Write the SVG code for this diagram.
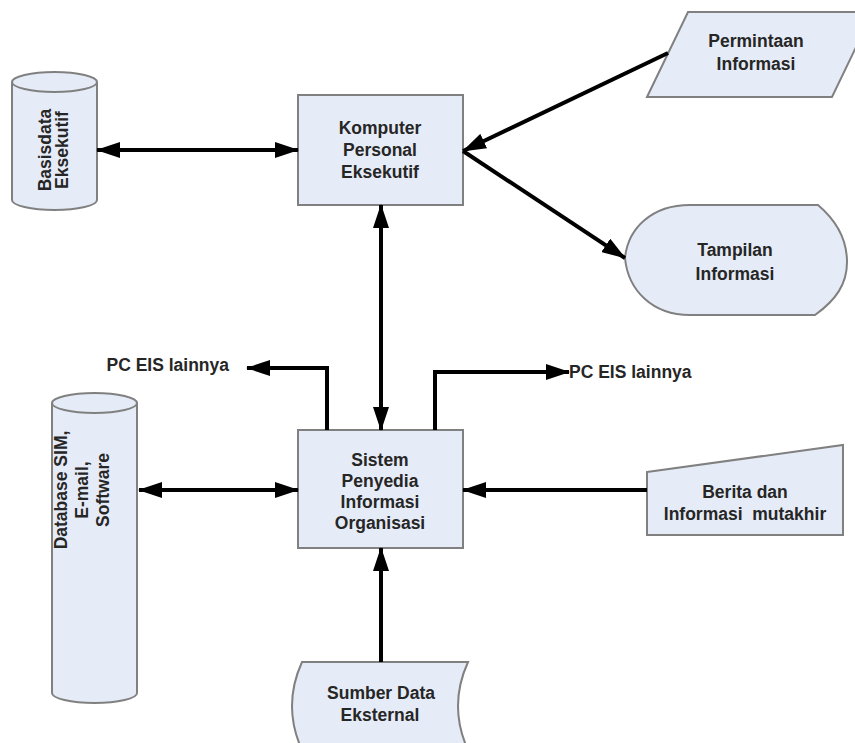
<svg xmlns="http://www.w3.org/2000/svg" width="855" height="743" viewBox="0 0 855 743">
<style>
.shape{fill:#e6ecf7;stroke:#808080;stroke-width:2}
.t{font-family:"Liberation Sans",Arial,sans-serif;font-weight:bold;font-size:17.5px;fill:#262626;text-anchor:middle}
.c{fill:none;stroke:#000;stroke-width:4}
</style>
<defs>
<marker id="ah" markerUnits="userSpaceOnUse" markerWidth="24" markerHeight="16" refX="23" refY="8" orient="auto-start-reverse">
<path d="M0,0 L24,8 L0,16 Z" fill="#000"/>
</marker>
</defs>
<rect width="855" height="743" fill="#fff"/>
<g id="basisdata">
<path class="shape" d="M12,82 L12,200 A42.5,10 0 0 0 97,200 L97,82 A42.5,10 0 0 0 12,82 Z"/>
<path class="shape" fill="none" d="M12,82 A42.5,10 0 0 0 97,82"/>
<g transform="translate(55,150) rotate(-90)">
<text class="t" x="0" y="-4">Basisdata</text>
<text class="t" x="0" y="13">Eksekutif</text>
</g>
</g>
<g id="komputer">
<rect class="shape" x="298" y="95" width="165" height="110"/>
<text class="t" x="380" y="134">Komputer</text>
<text class="t" x="380" y="156">Personal</text>
<text class="t" x="380" y="178">Eksekutif</text>
</g>
<g id="permintaan">
<polygon class="shape" points="647,97 688,12 873,12 832,97"/>
<text class="t" x="756" y="47">Permintaan</text>
<text class="t" x="756" y="70">Informasi</text>
</g>
<g id="tampilan">
<path class="shape" d="M625,258 C628,228 652,205 690,205 L818,205 C838,222 847,242 847,262 C847,284 836,300 815,315 L690,315 C652,315 628,290 625,258 Z"/>
<text class="t" x="735" y="256">Tampilan</text>
<text class="t" x="735" y="280">Informasi</text>
</g>
<g id="database">
<path class="shape" d="M52,403 L52,693 A42.5,10 0 0 0 137,693 L137,403 A42.5,10 0 0 0 52,403 Z"/>
<path class="shape" fill="none" d="M52,403 A42.5,10 0 0 0 137,403"/>
<g transform="translate(95,490) rotate(-90)">
<text class="t" x="0" y="-28">Database SIM,</text>
<text class="t" x="0" y="-7">E-mail,</text>
<text class="t" x="0" y="14">Software</text>
</g>
</g>
<g id="sistem">
<rect class="shape" x="298" y="430" width="165" height="118"/>
<text class="t" x="380" y="466">Sistem</text>
<text class="t" x="380" y="487">Penyedia</text>
<text class="t" x="380" y="508">Informasi</text>
<text class="t" x="380" y="529">Organisasi</text>
</g>
<g id="berita">
<polygon class="shape" points="647,472 843,445 843,535 647,535"/>
<text class="t" x="745" y="498">Berita dan</text>
<text class="t" x="745" y="520" xml:space="preserve">Informasi  mutakhir</text>
</g>
<g id="sumber">
<path class="shape" d="M302,662 L468,662 Q448,706 468,750 L302,750 Q282,706 302,662 Z"/>
<text class="t" x="381" y="699">Sumber Data</text>
<text class="t" x="380" y="721">Eksternal</text>
</g>
<g id="labels">
<text class="t" x="229" y="371" style="text-anchor:end">PC EIS lainnya</text>
<text class="t" x="569" y="378" style="text-anchor:start">PC EIS lainnya</text>
</g>
<g id="connectors">
<line class="c" x1="97" y1="150" x2="298" y2="150" marker-start="url(#ah)" marker-end="url(#ah)"/>
<line class="c" x1="668" y1="53" x2="463" y2="151" marker-end="url(#ah)"/>
<line class="c" x1="463" y1="151" x2="625" y2="258" marker-end="url(#ah)"/>
<line class="c" x1="381" y1="205" x2="381" y2="430" marker-start="url(#ah)" marker-end="url(#ah)"/>
<polyline class="c" points="327,430 327,368 247,368" marker-end="url(#ah)"/>
<polyline class="c" points="435,430 435,372 569,372" marker-end="url(#ah)"/>
<line class="c" x1="139" y1="490" x2="298" y2="490" marker-start="url(#ah)" marker-end="url(#ah)"/>
<line class="c" x1="647" y1="490" x2="463" y2="490" marker-end="url(#ah)"/>
<line class="c" x1="381" y1="662" x2="381" y2="548" marker-end="url(#ah)"/>
</g>
</svg>
